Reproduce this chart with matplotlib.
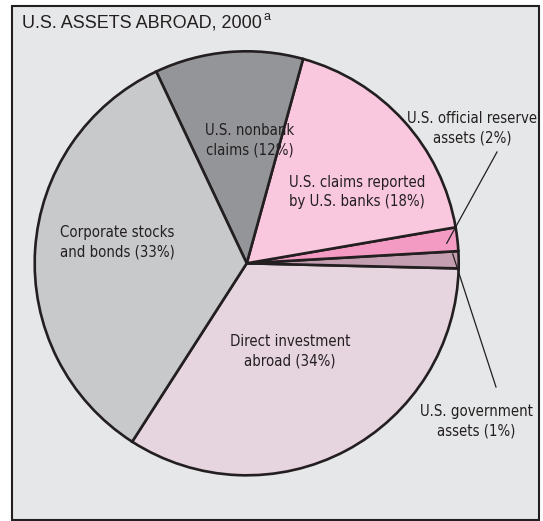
import matplotlib
matplotlib.use("Agg")
import matplotlib.pyplot as plt
from matplotlib.patches import Rectangle

# slices, counter-clockwise from the lower left
names = [
    "Direct investment\nabroad (34%)",
    "U.S. government\nassets (1%)",
    "U.S. official reserve\nassets (2%)",
    "U.S. claims reported\nby U.S. banks (18%)",
    "U.S. nonbank\nclaims (12%)",
    "Corporate stocks\nand bonds (33%)",
]
shares = [33.7, 1.3, 1.8, 18.0, 11.3, 33.9]
colors = ["#e6d4df", "#c49fb1", "#f39bc3", "#f9c8df", "#939598", "#c8c9cb"]

W, H = 543, 521
dark = "#231f20"


def up(y):
    # picture rows -> axis units (y pointing up)
    return H - y


fig = plt.figure(figsize=(W / 100, H / 100), dpi=100)
ax = fig.add_axes([0, 0, 1, 1])

ax.add_patch(Rectangle((12, up(520)), 527, 514, facecolor="#e6e7e8",
                       edgecolor=dark, linewidth=1.5, zorder=0))

ax.pie(shares, colors=colors, startangle=237.3, counterclock=True,
       center=(246.7, up(263.3)), radius=212,
       wedgeprops=dict(edgecolor=dark, linewidth=1.9))

ax.set_xlim(0, W)
ax.set_ylim(0, H)
ax.set_aspect("equal")
ax.axis("off")

# leader lines for the thin slices
ax.plot([446.7, 497], [up(243.3), up(152)], color=dark, lw=0.9)
ax.plot([452.7, 496], [up(254), up(387)], color=dark, lw=0.9)

label_pos = [
    (290, 351),
    (476, 421),
    (472, 128),
    (357, 192),
    (250, 140),
    (117, 242),
]
for name, (x, y) in zip(names, label_pos):
    ax.text(x, up(y), name, ha="center", va="center", fontsize=10.7,
            family="DejaVu Sans", fontstretch="condensed", color=dark,
            linespacing=1.4)

ax.text(22, up(27.3), "U.S. ASSETS ABROAD, 2000", ha="left", va="baseline",
        fontsize=13, family="Liberation Sans", color=dark)
ax.text(264, up(20.5), "a", ha="left", va="baseline", fontsize=9,
        family="Liberation Sans", color=dark)

fig.savefig("out.png", dpi=100, facecolor="white")
